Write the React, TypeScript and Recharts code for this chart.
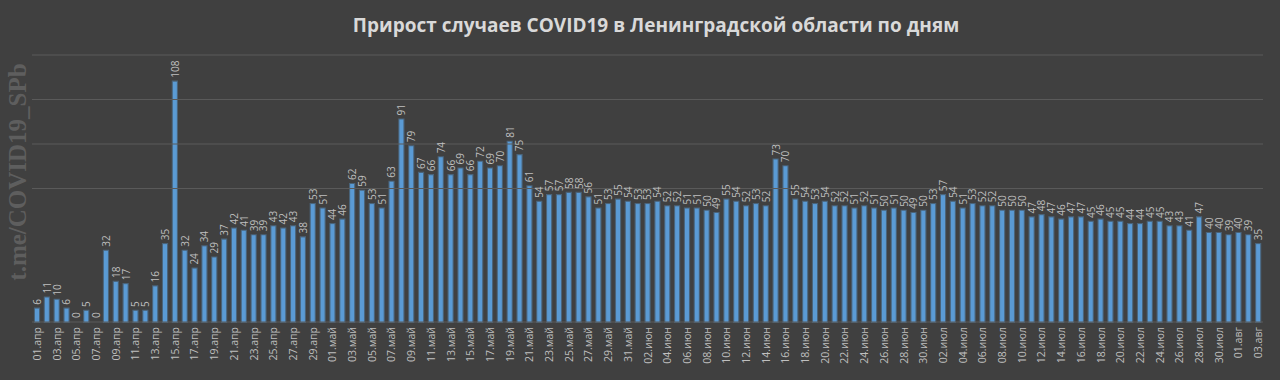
import React from "react";
import { ComposedChart, Bar, Line, XAxis, YAxis, ReferenceLine, LabelList } from "recharts";

const TITLE = "Прирост случаев COVID19 в Ленинградской области по дням";
const WATERMARK = "t.me/COVID19_SPb";

const monthNames = ["апр", "май", "июн", "июл", "авг"];
const aprValues = [6, 11, 10, 6, 0, 5, 0, 32, 18, 17, 5, 5, 16, 35, 108, 32, 24, 34, 29, 37, 42, 41, 39, 39, 43, 42, 43, 38, 53, 51];
const mayValues = [44, 46, 62, 59, 53, 51, 63, 91, 79, 67, 66, 74, 66, 69, 66, 72, 69, 70, 81, 75, 61, 54, 57, 57, 58, 58, 56, 51, 53, 55, 54];
const junValues = [53, 53, 54, 52, 52, 51, 51, 50, 49, 55, 54, 52, 53, 52, 73, 70, 55, 54, 53, 54, 52, 52, 51, 52, 51, 50, 51, 50, 49, 50];
const julValues = [53, 57, 54, 51, 53, 52, 52, 50, 50, 50, 47, 48, 47, 46, 47, 47, 45, 46, 45, 45, 44, 44, 45, 45, 43, 43, 41, 47, 40, 40, 39];
const augValues = [40, 39, 35];
const gridValues = [60, 80, 100, 120];

const months = [aprValues, mayValues, junValues, julValues, augValues];
const data: { date: string; value: number }[] = [];
months.forEach((vals, mi) => {
  vals.forEach((v, di) => {
    const d = String(di + 1).padStart(2, "0");
    data.push({ date: `${d}.${monthNames[mi]}`, value: v });
  });
});

const BG = "#404040";
const TEXT = "#bfbfbf";
const BAR = "#5B9BD5";
const GRID = "#5a5a5a";

const XTick = (props: any) => {
  const { x, y, payload } = props;
  return (
    <text
      x={x}
      y={y}
      transform={`rotate(-90, ${x}, ${y})`}
      textAnchor="end"
      dominantBaseline="central"
      fill={TEXT}
      fontSize={10.5}
      fontFamily="'Open Sans', sans-serif"
    >
      {payload.value}
    </text>
  );
};

const ValueLabel = (props: any) => {
  const { x, y, value } = props;
  const cx = x;
  const ty = y - 4;
  return (
    <text
      x={cx}
      y={ty}
      transform={`rotate(-90, ${cx}, ${ty})`}
      textAnchor="start"
      dominantBaseline="central"
      fill={TEXT}
      fontSize={10}
      fontFamily="'Open Sans', sans-serif"
    >
      {value}
    </text>
  );
};

export default function App() {
  return (
    <div style={{ position: "absolute", left: 0, top: 0, width: 1280, height: 380, background: BG, overflow: "hidden" }}>
      <svg width={1280} height={380} style={{ position: "absolute", left: 0, top: 0 }}>
        <text
          x={656}
          y={25}
          textAnchor="middle"
          dominantBaseline="central"
          fill="#d9d9d9"
          fontSize={19}
          fontWeight="bold"
          fontFamily="'Open Sans', sans-serif"
        >
          {TITLE}
        </text>
        <text
          x={17}
          y={172}
          transform="rotate(-90, 17, 172)"
          textAnchor="middle"
          dominantBaseline="central"
          fill="#5e5e5e"
          fontSize={25}
          fontWeight="bold"
          fontFamily="'Liberation Serif', serif"
        >
          {WATERMARK}
        </text>
      </svg>
      <div style={{ position: "absolute", left: 0, top: 0 }}>
        <ComposedChart width={1280} height={380} data={data} margin={{ top: 55, right: 17, left: 32, bottom: 0 }} barCategoryGap={0}>
          {gridValues.map((g) => (
            <ReferenceLine key={g} y={g} stroke={GRID} strokeWidth={1} />
          ))}
          <XAxis
            dataKey="date"
            interval={1}
            height={58}
            tickLine={false}
            tickSize={0}
            tickMargin={5}
            axisLine={{ stroke: GRID }}
            tick={<XTick />}
          />
          <YAxis hide domain={[0, 120]} ticks={[0, 20, 40, 60, 80, 100, 120]} />
          <Bar
            dataKey="value"
            fill={BAR}
            barSize={4}
            stroke={BAR}
            strokeOpacity={0.4}
            strokeWidth={2.2}
            isAnimationActive={false}
          />
          <Line
            dataKey="value"
            stroke="none"
            dot={false}
            activeDot={false}
            legendType="none"
            isAnimationActive={false}
          >
            <LabelList dataKey="value" content={<ValueLabel />} />
          </Line>
        </ComposedChart>
      </div>
    </div>
  );
}
